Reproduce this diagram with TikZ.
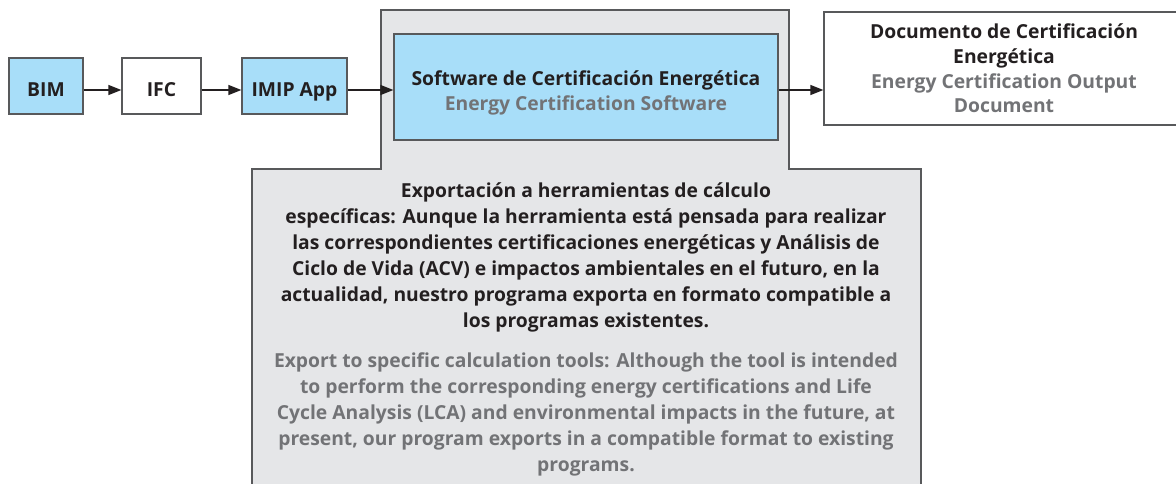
\documentclass[tikz,border=0pt]{standalone}
\usepackage{fontspec}
\setmainfont{Open Sans}
\usetikzlibrary{arrows.meta}
\definecolor{bluef}{HTML}{A8DEF9}
\definecolor{grayf}{HTML}{E5E6E8}
\definecolor{edgec}{HTML}{58595B}
\definecolor{txt}{HTML}{231F20}
\definecolor{gtxt}{HTML}{727376}
\begin{document}
\begin{tikzpicture}[x=1pt,y=-1pt,
  font=\bfseries\fontsize{19.3}{26}\selectfont,
  box/.style={draw=edgec, line width=1.3pt, inner sep=0pt, text=txt},
  smallbox/.style={box, minimum height=56pt, text height=22pt, text depth=0pt},
  arr/.style={-{Triangle[length=13pt,width=10pt]}, line width=1.3pt, draw=txt},
  para/.style={align=center, inner sep=0pt}]
\useasboundingbox (0,0) rectangle (1176,484);
\clip (0,0) rectangle (1176,484);
% grey region
\path[fill=grayf, draw=edgec, line width=1.3pt]
  (381,10) -- (789,10) -- (789,169) -- (921,169) -- (921,495)
  -- (252,495) -- (252,169) -- (381,169) -- cycle;
% boxes
\node[smallbox, fill=bluef, minimum width=74pt] (bim) at (46,86) {BIM};
\node[smallbox, fill=white, minimum width=79pt] (ifc) at (161.5,86) {IFC};
\node[smallbox, fill=bluef, minimum width=105pt] (imip) at (294.5,86) {IMIP App};
\node[box, fill=bluef, minimum width=384pt, minimum height=106pt] (soft) at (586,87) {};
\node[para, text=txt, font=\bfseries\fontsize{19.3}{25.5}\selectfont] (softtxt) at (586,93)
  {Software de Certificación Energética\\\textcolor{gtxt}{Energy Certification Software}};
\node[box, fill=white, minimum width=360pt, minimum height=113pt, align=center, font=\bfseries\fontsize{19.3}{24.8}\selectfont]
  (doc) at (1004,68.5) {Documento de Certificación\\Energética\\\textcolor{gtxt}{Energy Certification Output}\\\textcolor{gtxt}{Document}};
% arrows
\coordinate (ay) at (0,90);
\draw[arr] (bim.east |- ay) -- (ifc.west |- ay);
\draw[arr] (ifc.east |- ay) -- (imip.west |- ay);
\draw[arr] (imip.east |- ay) -- (soft.west |- ay);
\draw[arr] (soft.east |- ay) -- (doc.west |- ay);
% description
\node[para, text=txt] (desc) at (586,257) {Exportación a herramientas de cálculo\\
específicas: Aunque la herramienta está pensada para realizar\\
las correspondientes certificaciones energéticas y Análisis de\\
Ciclo de Vida (ACV) e impactos ambientales en el futuro, en la\\
actualidad, nuestro programa exporta en formato compatible a\\
los programas existentes.};
\node[para, text=gtxt] (descen) at (586,414) {Export to specific calculation tools: Although the tool is intended\\
to perform the corresponding energy certifications and Life\\
Cycle Analysis (LCA) and environmental impacts in the future, at\\
present, our program exports in a compatible format to existing\\
programs.};
\end{tikzpicture}
\end{document}
